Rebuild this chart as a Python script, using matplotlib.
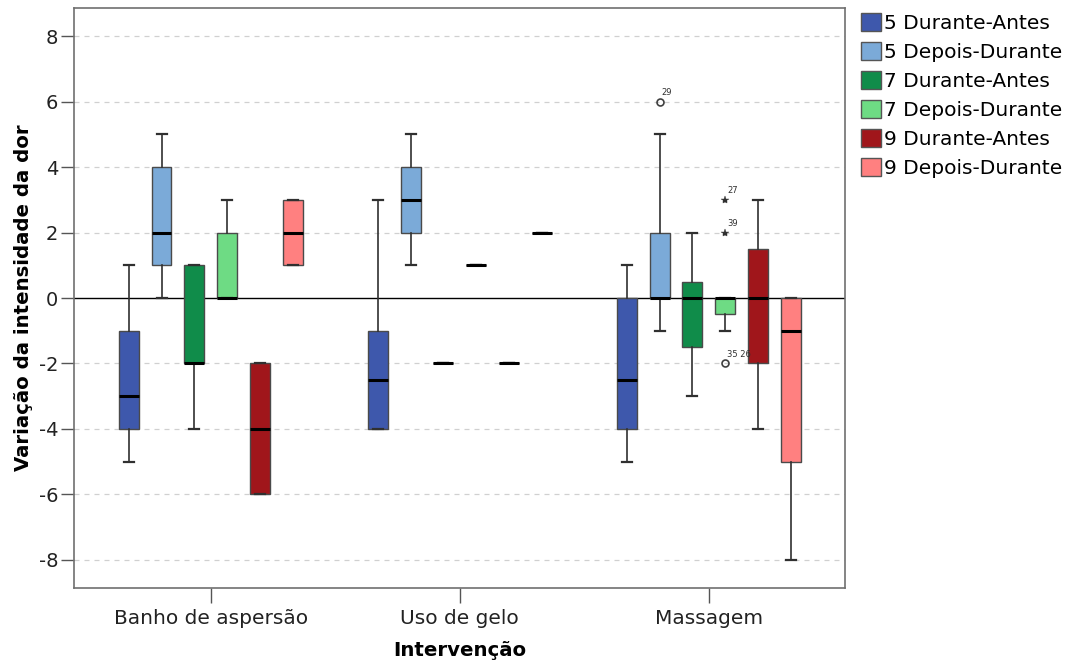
import matplotlib
matplotlib.use("Agg")
import matplotlib.pyplot as plt
from matplotlib.patches import Patch

plt.rcParams['font.family'] = ['DejaVu Sans']

categories = ["Banho de aspersão", "Uso de gelo", "Massagem"]
series = ["5 Durante-Antes", "5 Depois-Durante", "7 Durante-Antes",
          "7 Depois-Durante", "9 Durante-Antes", "9 Depois-Durante"]
colors = ["#3E58AC", "#7BAAD8", "#108C4A", "#6EDB84", "#A0161B", "#FF8080"]

# stats per series, per category: [whislo, q1, median, q3, whishi]
s5_da = [[-5, -4, -3, -1, 1], [-4, -4, -2.5, -1, 3], [-5, -4, -2.5, 0, 1]]
s5_dd = [[0, 1, 2, 4, 5], [1, 2, 3, 4, 5], [-1, 0, 0, 2, 5]]
s7_da = [[-4, -2, -2, 1, 1], [-2, -2, -2, -2, -2], [-3, -1.5, 0, 0.5, 2]]
s7_dd = [[0, 0, 0, 2, 3], [1, 1, 1, 1, 1], [-1, -0.5, 0, 0, 0]]
s9_da = [[-6, -6, -4, -2, -2], [-2, -2, -2, -2, -2], [-4, -2, 0, 1.5, 3]]
s9_dd = [[1, 1, 2, 3, 3], [2, 2, 2, 2, 2], [-8, -5, -1, 0, 0]]
all_stats = [s5_da, s5_dd, s7_da, s7_dd, s9_da, s9_dd]

# outliers: (series index, category index, value, label, marker)
outliers = [
    (1, 2, 6, "29", "o"),
    (3, 2, 3, "27", "*"),
    (3, 2, 2, "39", "*"),
    (3, 2, -2, "35 26", "o"),
]

yticks = [-8, -6, -4, -2, 0, 2, 4, 6, 8]

W, H = 1078, 668
fig = plt.figure(figsize=(W / 100, H / 100), dpi=100)
ax = fig.add_axes([74 / W, 1 - 587.7 / H, (845 - 74) / W, (587.7 - 8.3) / H])

step = 0.1317
bw = 0.08
for si, st in enumerate(all_stats):
    bxp_stats = []
    pos = []
    for ci, v in enumerate(st):
        bxp_stats.append(dict(whislo=v[0], q1=v[1], med=v[2], q3=v[3], whishi=v[4], fliers=[]))
        pos.append(ci + (si - 2.5) * step)
    ax.bxp(bxp_stats, positions=pos, widths=bw, patch_artist=True, showfliers=False,
           boxprops=dict(facecolor=colors[si], edgecolor="#4a4a4a", linewidth=1.0),
           medianprops=dict(color="black", linewidth=2.2, solid_capstyle="butt"),
           whiskerprops=dict(color="#303030", linewidth=1.2),
           capprops=dict(color="#303030", linewidth=1.6),
           capwidths=bw / 2, zorder=3)

for si, ci, val, lab, mk in outliers:
    x = ci + (si - 2.5) * step
    if mk == "o":
        ax.plot(x, val, marker="o", ms=5, mfc="none", mec="#404040", mew=1.2, zorder=4)
    else:
        ax.plot(x, val, marker="*", ms=6, color="#303030", mew=0.3, zorder=4)
    ax.annotate(lab, (x, val), xytext=(1.5, 3.5), textcoords="offset points",
                fontsize=6, color="#303030", ha="left", va="bottom", zorder=6)

ax.set_xlim(-0.549, 2.547)
ax.set_ylim(-8.85, 8.85)
ax.set_yticks(yticks)
ax.set_yticklabels([str(t) for t in yticks])
ax.set_xticks(range(len(categories)))
ax.set_xticklabels(categories)
for t in yticks:
    if t != 0:
        ax.axhline(t, color="#d0d0d0", lw=0.9, ls=(0, (4, 4)), zorder=1)
ax.axhline(0, color="black", lw=1.0, zorder=2)

ax.tick_params(axis="y", length=9.5, width=1, color="#555555", labelsize=14, pad=2, labelcolor="#222222")
ax.tick_params(axis="x", length=11, width=1, color="#555555", labelsize=14.5, pad=4, labelcolor="#222222")
for sp in ax.spines.values():
    sp.set_color("#707070")
    sp.set_linewidth(1.2)

ax.set_ylabel("Variação da intensidade da dor", fontsize=14.2, fontweight="bold", labelpad=4)
ax.set_xlabel("Intervenção", fontsize=14.2, fontweight="bold", labelpad=10)

handles = [Patch(facecolor=c, edgecolor="#555555", linewidth=1.0) for c in colors]
fig.legend(handles, series, loc="upper left", bbox_to_anchor=(861 / W, 1 - 13 / H),
           frameon=False, fontsize=14.5, handlelength=1.0, handleheight=1.0,
           handletextpad=0.15, labelspacing=0.45, borderpad=0, borderaxespad=0)

fig.savefig("out.png", dpi=100)
